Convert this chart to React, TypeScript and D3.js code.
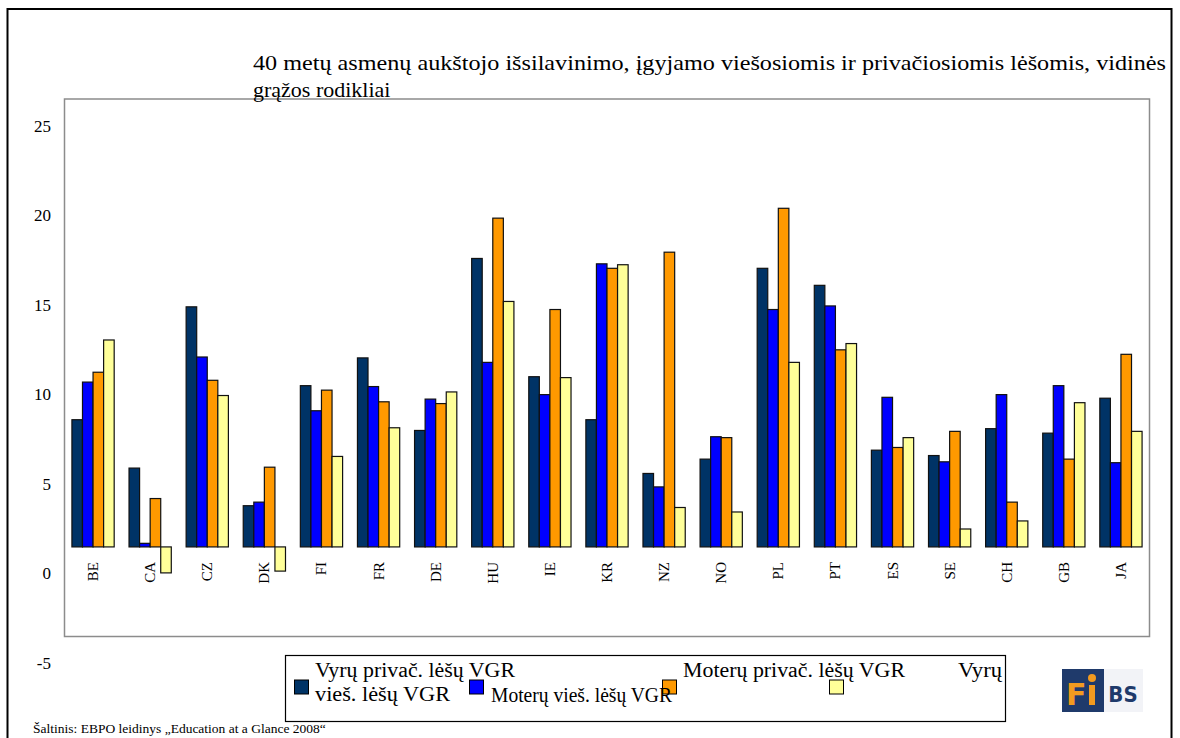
import React from "react";
import * as d3 from "d3";

const categories = ["BE", "CA", "CZ", "DK", "FI", "FR", "DE", "HU", "IE", "KR", "NZ", "NO", "PL", "PT", "ES", "SE", "CH", "GB", "JA"];
const seriesNames = ["Vyrų privač. lėšų VGR", "Moterų privač. lėšų VGR", "Vyrų vieš. lėšų VGR", "Moterų vieš. lėšų VGR"];
const navyValues = [7.1, 4.4, 13.4, 2.3, 9.0, 10.55, 6.5, 16.1, 9.5, 7.1, 4.1, 4.9, 15.55, 14.6, 5.4, 5.1, 6.6, 6.35, 8.3];
const blueValues = [9.2, 0.2, 10.6, 2.5, 7.6, 8.95, 8.25, 10.3, 8.5, 15.8, 3.35, 6.15, 13.25, 13.45, 8.35, 4.75, 8.5, 9.0, 4.7];
const orangeValues = [9.75, 2.7, 9.3, 4.45, 8.75, 8.1, 8.0, 18.35, 13.25, 15.55, 16.45, 6.1, 18.9, 11.0, 5.55, 6.45, 2.5, 4.9, 10.75];
const yellowValues = [11.55, -1.45, 8.45, -1.35, 5.05, 6.65, 8.65, 13.7, 9.45, 15.75, 2.2, 1.95, 10.3, 11.35, 6.1, 1.0, 1.45, 8.05, 6.45];
const seriesColors = ["#003366", "#0000FF", "#FF9900", "#FFFF99"];
const yTicks = [-5, 0, 5, 10, 15, 20, 25];
const titleLines = [
  "40 metų asmenų aukštojo išsilavinimo, įgyjamo viešosiomis ir privačiosiomis lėšomis, vidinės",
  "grąžos rodikliai",
];
const sourceText = "Šaltinis: EBPO leidinys „Education at a Glance 2008“";

const W = 1180;
const H = 738;
const plot = { left: 64.5, top: 99, right: 1149.5, bottom: 636.5 };
const serif = "'Liberation Serif', 'Times New Roman', serif";

export default function App() {
  const allSeries = [navyValues, blueValues, orangeValues, yellowValues];
  const x = d3
    .scaleBand<string>()
    .domain(categories)
    .range([plot.left, plot.right])
    .paddingInner(0.26)
    .paddingOuter(0.13);
  const xs = d3
    .scaleBand<number>()
    .domain(d3.range(allSeries.length))
    .range([0, x.bandwidth()])
    .padding(0);
  const y = d3.scaleLinear().domain([-5, 25]).range([plot.bottom, plot.top]);
  const labelOffset = 27;

  return (
    <svg
      width={W}
      height={H}
      style={{ position: "absolute", left: 0, top: 0, display: "block", background: "#fff" }}
    >
      <rect x={0} y={0} width={W} height={H} fill="#fff" />
      {/* outer frame */}
      <rect x={7.5} y={9} width={1164} height={760} fill="none" stroke="#000" strokeWidth={2} />

      {/* plot area */}
      <rect
        x={plot.left}
        y={plot.top}
        width={plot.right - plot.left}
        height={plot.bottom - plot.top}
        fill="none"
        stroke="#8c8c8c"
        strokeWidth={1.5}
      />

      {/* title */}
      <text fontFamily={serif} fontSize={22} fill="#000">
        <tspan x={253} y={70} textLength={913} lengthAdjust="spacingAndGlyphs">
          {titleLines[0]}
        </tspan>
        <tspan x={253} y={97}>
          {titleLines[1]}
        </tspan>
      </text>

      {/* y tick labels (offset below their gridline position, as in the reference) */}
      {yTicks.map((t) => (
        <text
          key={t}
          x={51}
          y={y(t) + labelOffset}
          textAnchor="end"
          dominantBaseline="central"
          fontFamily={serif}
          fontSize={17}
          fill="#000"
        >
          {t}
        </text>
      ))}

      {/* bars */}
      {categories.map((c, i) => (
        <g key={c} transform={`translate(${x(c)},0)`}>
          {allSeries.map((s, j) => {
            const v = s[i];
            const y0 = y(0);
            const y1 = y(v);
            return (
              <rect
                key={j}
                x={xs(j)}
                y={Math.min(y0, y1)}
                width={xs.bandwidth()}
                height={Math.abs(y1 - y0)}
                fill={seriesColors[j]}
                stroke="#111"
                strokeWidth={1.2}
              >
                <title>{`${seriesNames[j]} ${c}: ${v}`}</title>
              </rect>
            );
          })}
        </g>
      ))}

      {/* category labels */}
      {categories.map((c) => {
        const cx = (x(c) as number) + x.bandwidth() / 2;
        const cy = 562;
        return (
          <text
            key={c}
            transform={`translate(${cx},${cy}) rotate(-90)`}
            textAnchor="end"
            dominantBaseline="central"
            fontFamily={serif}
            fontSize={15}
            fill="#000"
          >
            {c}
          </text>
        );
      })}

      {/* legend */}
      <rect x={285.5} y={655.5} width={720} height={66} fill="#fff" stroke="#000" strokeWidth={1.2} />
      <rect x={294.5} y={680} width={14} height={14} fill={seriesColors[0]} stroke="#000" strokeWidth={1} />
      <rect x={469.5} y={680} width={14} height={14} fill={seriesColors[1]} stroke="#000" strokeWidth={1} />
      <rect x={662.5} y={680} width={14} height={14} fill={seriesColors[2]} stroke="#000" strokeWidth={1} />
      <rect x={829.5} y={680} width={14} height={14} fill={seriesColors[3]} stroke="#000" strokeWidth={1} />
      <g fontFamily={serif} fontSize={20} fill="#000">
        <text x={315} y={677} textLength={200} lengthAdjust="spacingAndGlyphs">Vyrų privač. lėšų VGR</text>
        <text x={315} y={701} textLength={135} lengthAdjust="spacingAndGlyphs">vieš. lėšų VGR</text>
        <text x={491} y={702} textLength={181} lengthAdjust="spacingAndGlyphs">Moterų vieš. lėšų VGR</text>
        <text x={683} y={677} textLength={222} lengthAdjust="spacingAndGlyphs">Moterų privač. lėšų VGR</text>
        <text x={958} y={677} textLength={44} lengthAdjust="spacingAndGlyphs">Vyrų</text>
      </g>

      {/* logo */}
      <g>
        <rect x={1062} y={669} width={42} height={43} fill="#1f3a6b" />
        <rect x={1104} y={669} width={39} height={43} fill="#f2f3f7" />
        <text x={1066} y={705} fontFamily="'DejaVu Sans', sans-serif" fontWeight="bold" fontSize={30} fill="#f29a1f">
          F
        </text>
        <rect x={1089} y={685} width={6} height={20} fill="#f29a1f" />
        <circle cx={1092} cy={678} r={4} fill="#f29a1f" />
        <text
          x={1123}
          y={702}
          textAnchor="middle"
          fontFamily="'DejaVu Sans Condensed', 'DejaVu Sans', sans-serif"
          fontWeight="bold"
          fontSize={22}
          fill="#1f3a6b"
        >
          BS
        </text>
      </g>

      {/* source */}
      <text x={33} y={733} fontFamily={serif} fontSize={13.5} fill="#000">
        {sourceText}
      </text>
    </svg>
  );
}
